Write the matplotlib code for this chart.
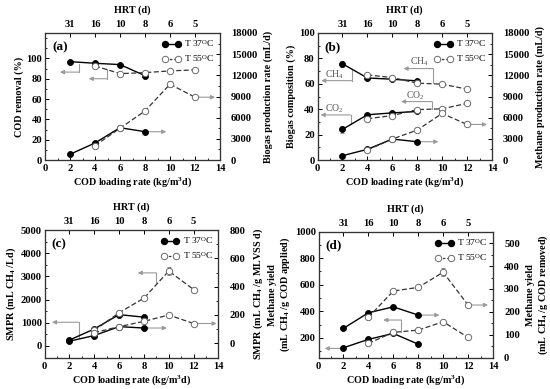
import matplotlib
matplotlib.use('Agg')
import matplotlib.pyplot as plt
from matplotlib.ticker import MultipleLocator, AutoMinorLocator

plt.rcParams['font.family'] = ['Liberation Serif', 'DejaVu Serif']
plt.rcParams['mathtext.fontset'] = 'custom'
plt.rcParams['mathtext.rm'] = 'Liberation Serif'
plt.rcParams['mathtext.bf'] = 'Liberation Serif:bold'
plt.rcParams['mathtext.it'] = 'Liberation Serif:italic'

# ---------------- data ----------------
x37 = [2, 4, 6, 8]
x55 = [4, 6, 8, 10, 12]
hrt_pos = [2, 4, 6, 8, 10, 12]
hrt_labels = ['31', '16', '10', '8', '6', '5']

a_cod37 = [96.8, 95.2, 93.9, 83.0]
a_cod55 = [92.6, 85.0, 86.0, 87.7, 88.7]
a_gas37 = [810, 2410, 4580, 4010]
a_gas55 = [2030, 4500, 6950, 10740, 8900]
a_gas55_err = [0, 0, 0, 450, 0]

b_ch4_37 = [75.8, 64.6, 63.6, 62.3]
b_ch4_55 = [67.0, 64.9, 60.5, 59.7, 55.8]
b_co2_37 = [24.1, 35.6, 37.1, 38.2]
b_co2_55 = [32.5, 35.0, 39.7, 40.3, 44.6]
b_ch4_37_err = [2.5, 0, 0, 0]
b_co2_37_err = [2.5, 0, 0, 0]
b_me37 = [610, 1510, 2970, 2590]
b_me55 = [1410, 2970, 4240, 6600, 5040]

c_vol37 = [250, 730, 1350, 1240]
c_vol55 = [670, 1430, 2060, 3230, 2430]
c_vol55_err = [0, 0, 0, 160, 0]
c_spec37 = [15, 55, 118, 108]
c_spec55 = [75, 118, 155, 200, 140]

d_app37 = [125, 188, 233, 152]
d_app55 = [158, 241, 258, 321, 203]
d_rem37 = [128, 196, 222, 186]
d_rem55 = [176, 291, 307, 373, 230]
d_rem55_err = [0, 0, 0, 18, 0]

# ---------------- figure ----------------
W, H = 550, 389
fig = plt.figure(figsize=(5.5, 3.89), dpi=100)


def rect(l, r, t, b):
    return [l / W, 1 - b / H, (r - l) / W, (b - t) / H]


TICK_FS = 7.6
LAB_FS = 7.3
GRAY = '#9a9a9a'
OPEN_EC = '#6a6a6a'


def style_axis(ax):
    ax.tick_params(axis='both', which='both', direction='in', labelsize=TICK_FS)
    ax.tick_params(which='major', length=3, width=0.7)
    ax.tick_params(which='minor', length=1.6, width=0.6)
    for lab in ax.get_xticklabels() + ax.get_yticklabels():
        lab.set_fontweight('bold')
    for s in ax.spines.values():
        s.set_linewidth(0.8)
        s.set_color('#333333')


def s37(ax, x, y, err=None):
    ax.errorbar(x, y, yerr=err, color='black', lw=1.0, marker='o', ms=4.3,
                mfc='black', mec='black', mew=0.6, capsize=1.5, elinewidth=0.6,
                ecolor='#888888', zorder=4)


def s55(ax, x, y, err=None):
    ax.errorbar(x, y, yerr=err, color='#333333', lw=0.9, ls=(0, (4, 2)), marker='o',
                ms=4.6, mfc='white', mec=OPEN_EC, mew=0.7, capsize=1.5,
                elinewidth=0.6, ecolor='#888888', zorder=5)


def arrow(ax, pts, label=None, lpos=None):
    xs = [p[0] for p in pts]
    ys = [p[1] for p in pts]
    if len(pts) > 2:
        ax.plot(xs[:-1], ys[:-1], color=GRAY, lw=0.8, zorder=2)
    ax.annotate('', xy=pts[-1], xytext=pts[-2],
                arrowprops=dict(arrowstyle='-|>', color=GRAY, lw=0.8,
                                mutation_scale=6, shrinkA=0, shrinkB=0),
                zorder=2)
    if label:
        ax.text(lpos[0], lpos[1], label, fontsize=7, color='#555555',
                ha='center', va='center')


def setup(ax, ylim, yticks, ylabel, rylim, ryticks, rylabel, tag):
    ax.set_xlim(0, 14)
    ax.xaxis.set_major_locator(MultipleLocator(2))
    ax.xaxis.set_minor_locator(AutoMinorLocator(2))
    ax.set_ylim(*ylim)
    ax.set_yticks(yticks)
    ax.yaxis.set_minor_locator(AutoMinorLocator(2))
    ax.set_xlabel('COD loading rate (kg/m$^\\mathbf{3}$d)', fontsize=LAB_FS,
                  fontweight='bold', labelpad=1.5)
    ax.set_ylabel(ylabel, fontsize=LAB_FS, fontweight='bold', labelpad=2)
    style_axis(ax)
    ax.tick_params(axis='y', pad=2)
    ax.tick_params(axis='x', pad=3)
    axr = ax.twinx()
    axr.set_ylim(*rylim)
    axr.set_yticks(ryticks)
    axr.yaxis.set_minor_locator(AutoMinorLocator(2))
    axr.set_ylabel(rylabel, fontsize=LAB_FS, fontweight='bold', labelpad=4)
    style_axis(axr)
    axr.tick_params(axis='y', pad=8)
    axt = ax.twiny()
    axt.set_xlim(0, 14)
    axt.set_xticks(hrt_pos)
    axt.set_xticklabels(hrt_labels)
    axt.set_xlabel('HRT (d)', fontsize=LAB_FS, fontweight='bold', labelpad=5)
    style_axis(axt)
    axt.tick_params(axis='x', pad=3)
    ax.text(0.04, 0.89, tag, transform=ax.transAxes, fontsize=9.5,
            fontweight='bold', va='center')
    return axr, axt


def legend(ax):
    h1 = ax.plot([], [], color='black', lw=1.0, marker='o', ms=4.3,
                 mfc='black', mec='black')[0]
    h2 = ax.plot([], [], color='#333333', lw=0.9, ls=(0, (2, 1.5)), marker='o',
                 ms=4.6, mfc='white', mec=OPEN_EC, mew=0.7)[0]
    ax.legend([h1, h2], ['T 37$^{\\rm O}$C', 'T 55$^{\\rm O}$C'], loc='upper right',
              frameon=False, fontsize=6.8, numpoints=2, handlelength=1.9,
              handletextpad=0.4, labelspacing=0.45, borderaxespad=0.35,
              borderpad=0.2)


# ---------- (a) ----------
ax = fig.add_axes(rect(45, 220, 33, 160))
axr, axt = setup(ax, (0, 125), [0, 20, 40, 60, 80, 100], 'COD removal (%)',
                 (0, 18000), list(range(0, 18001, 3000)),
                 'Biogas production rate (mL/d)', '(a)')
s37(ax, x37, a_cod37)
s55(ax, x55, a_cod55)
s37(axr, x37, a_gas37)
s55(axr, x55, a_gas55, a_gas55_err)
arrow(ax, [(2.75, 94), (2.75, 86.5), (1.2, 86.5)])
arrow(ax, [(4.95, 90), (4.95, 80), (3.5, 80)])
arrow(axr, [(8.3, 4010), (9.7, 4010)])
arrow(axr, [(12.3, 8900), (13.6, 8900)])
legend(axt)

# ---------- (b) ----------
ax = fig.add_axes(rect(317.5, 492, 33, 160))
axr, axt = setup(ax, (0, 100), [0, 20, 40, 60, 80, 100], 'Biogas composition (%)',
                 (0, 18000), list(range(0, 18001, 3000)),
                 'Methane production rate (mL/d)', '(b)')
s37(ax, x37, b_ch4_37, b_ch4_37_err)
s55(ax, x55, b_ch4_55)
s37(ax, x37, b_co2_37, b_co2_37_err)
s55(ax, x55, b_co2_55)
s37(axr, x37, b_me37)
s55(axr, x55, b_me55)
arrow(ax, [(2.76, 72), (2.76, 62.5), (0.3, 62.5)], 'CH$_4$', (1.4, 67.5))
arrow(ax, [(2.65, 28.5), (2.65, 35.5), (0.25, 35.5)], 'CO$_2$', (1.35, 40.5))
arrow(ax, [(9.3, 61), (9.3, 72), (6.9, 72)], 'CH$_4$', (8.2, 77.5))
arrow(ax, [(9.2, 40.5), (9.2, 46), (6.7, 46)], 'CO$_2$', (7.85, 50.5))
arrow(axr, [(8.3, 2590), (9.7, 2590)])
arrow(axr, [(12.3, 5040), (13.6, 5040)])
legend(axt)

# ---------- (c) ----------
ax = fig.add_axes(rect(44.5, 218.5, 230, 357.5))
axr, axt = setup(ax, (-500, 5000), [0, 1000, 2000, 3000, 4000, 5000],
                 'SMPR (mL CH$_\\mathbf{4}$ /Ld)',
                 (-100, 800), [0, 200, 400, 600, 800],
                 'SMPR (mL CH$_\\mathbf{4}$ /g MLVSS d)', '(c)')
s37(ax, x37, c_vol37)
s55(ax, x55, c_vol55, c_vol55_err)
s37(axr, x37, c_spec37)
s55(axr, x55, c_spec55)
arrow(ax, [(2.74, 330), (2.74, 1020), (0.6, 1020)])
arrow(ax, [(9.0, 2700), (9.0, 3150), (7.5, 3150)])
arrow(axr, [(8.3, 108), (9.85, 108)])
arrow(axr, [(12.3, 140), (13.85, 140)])
legend(axt)

# ---------- (d) ----------
ax = fig.add_axes(rect(318.5, 493, 231.7, 357.7))
axr, axt = setup(ax, (50, 1000), [200, 400, 600, 800, 1000],
                 'Methane yield\n(mL CH$_\\mathbf{4}$ /g COD applied)',
                 (0, 550), [0, 100, 200, 300, 400, 500],
                 'Methane yield\n(mL CH$_\\mathbf{4}$ /g COD removed)', '(d)')
ax.yaxis.set_minor_locator(MultipleLocator(100))
s37(ax, x37, d_app37)
s55(ax, x55, d_app55)
s37(axr, x37, d_rem37)
s55(axr, x55, d_rem55, d_rem55_err)
arrow(ax, [(1.8, 120), (0.5, 120)])
arrow(ax, [(6.65, 245), (6.65, 334), (5.2, 334)])
arrow(axr, [(8.3, 186), (9.7, 186)])
arrow(axr, [(12.3, 230), (13.6, 230)])
legend(axt)

fig.savefig('out.png', dpi=100)
